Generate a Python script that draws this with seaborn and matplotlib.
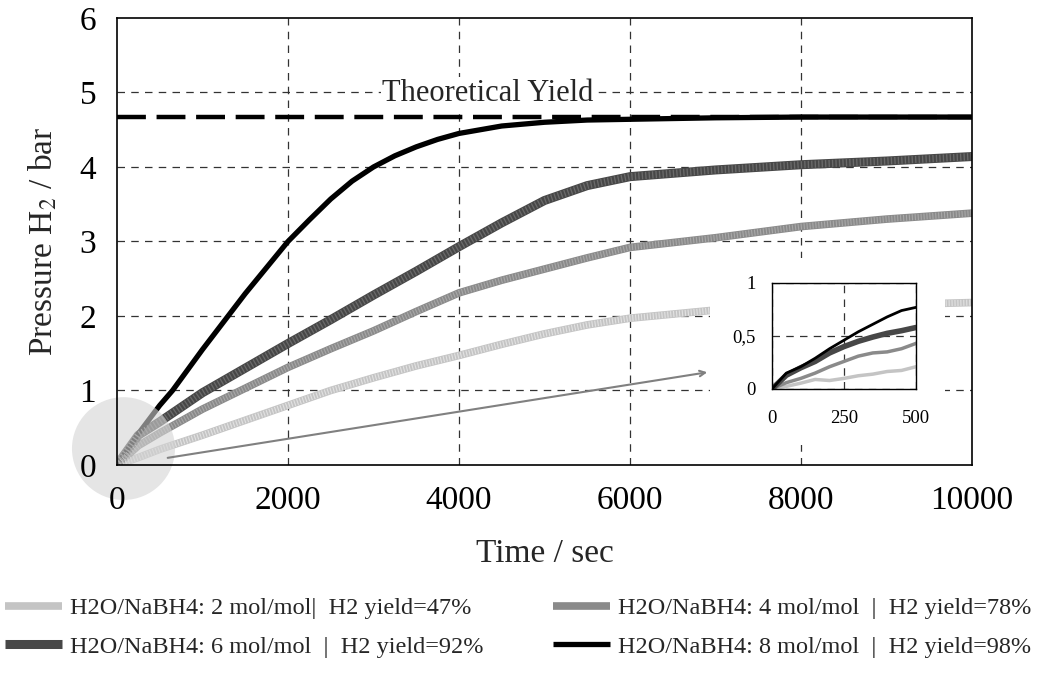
import numpy as np
import pandas as pd
import seaborn as sns
import matplotlib.pyplot as plt
from matplotlib.patches import Rectangle, Ellipse
from matplotlib.ticker import MultipleLocator, FixedLocator, FixedFormatter

# main curves
time_s = [0, 250, 500, 1000, 1500, 2000, 2500, 3000, 3500, 4000, 4500, 5000,
          5500, 6000, 7000, 8000, 9000, 10000]
p_2mol = [0, 0.10, 0.21, 0.40, 0.60, 0.80, 1.00, 1.17, 1.33, 1.47, 1.62, 1.76,
          1.88, 1.97, 2.08, 2.12, 2.15, 2.18]
p_4mol = [0, 0.26, 0.43, 0.75, 1.03, 1.31, 1.56, 1.80, 2.06, 2.31, 2.48, 2.63,
          2.78, 2.92, 3.05, 3.20, 3.30, 3.38]
p_6mol = [0, 0.40, 0.58, 0.97, 1.30, 1.63, 1.95, 2.28, 2.60, 2.93, 3.25, 3.55,
          3.75, 3.87, 3.96, 4.03, 4.08, 4.14]
time_8mol = [0, 250, 500, 650, 1000, 1300, 1500, 2000, 2250, 2500, 2750, 3000,
             3250, 3500, 3750, 4000, 4500, 5000, 5500, 6000, 7000, 8000, 9000, 10000]
p_8mol = [0, 0.42, 0.80, 1.00, 1.55, 2.00, 2.30, 3.00, 3.29, 3.57, 3.81, 4.00,
          4.15, 4.27, 4.37, 4.45, 4.55, 4.60, 4.63, 4.64, 4.66, 4.67, 4.67, 4.67]
theoretical = 4.67

# inset (first 500 s)
t_in = [0, 50, 100, 150, 200, 250, 300, 350, 400, 450, 500]
in_2mol = [0, 0.025, 0.055, 0.09, 0.08, 0.10, 0.125, 0.14, 0.165, 0.175, 0.21]
in_4mol = [0, 0.06, 0.10, 0.15, 0.21, 0.26, 0.31, 0.34, 0.35, 0.38, 0.43]
in_6mol = [0, 0.13, 0.20, 0.26, 0.34, 0.40, 0.45, 0.49, 0.525, 0.55, 0.58]
in_8mol = [0, 0.15, 0.21, 0.29, 0.38, 0.46, 0.54, 0.61, 0.68, 0.74, 0.77]

labels = ["H2O/NaBH4: 2 mol/mol|  H2 yield=47%",
          "H2O/NaBH4: 4 mol/mol  |  H2 yield=78%",
          "H2O/NaBH4: 6 mol/mol  |  H2 yield=92%",
          "H2O/NaBH4: 8 mol/mol  |  H2 yield=98%"]
colors = ["#c4c4c4", "#8a8a8a", "#474747", "#000000"]
stripe = ["#e2e2e2", "#a8a8a8", "#6a6a6a", None]
widths = [5.5, 5.5, 6.5, 3.8]
widths_in = [2.5, 2.5, 4, 2]

sns.set_style("white")
plt.rcParams['font.family'] = ['Liberation Serif', 'DejaVu Serif']
plt.rcParams['mathtext.fontset'] = 'stix'

fig = plt.figure(figsize=(10.38, 6.73), dpi=100)
ax = fig.add_axes([0.1127, 0.3091, 0.8237, 0.6642])

series = [(time_s, p_2mol), (time_s, p_4mol), (time_s, p_6mol), (time_8mol, p_8mol)]
handles = []
for (tt, vals), c, sc, w in zip(series, colors, stripe, widths):
    df = pd.DataFrame({"t": tt, "p": vals})
    sns.lineplot(data=df, x="t", y="p", ax=ax, color=c, lw=w, zorder=3,
                 solid_capstyle="butt")
    handles.append(ax.lines[-1])
    if sc:
        # fine stripes to imitate the noisy, hatched look of the measured traces
        sns.lineplot(data=df, x="t", y="p", ax=ax, color=sc, lw=w * 0.8, zorder=3.1,
                     dashes=False)
        ax.lines[-1].set_dashes((0.18, 0.3))

ax.plot([0, 10000], [theoretical, theoretical], color="black", lw=3.2,
        dashes=(6.5, 2.4), zorder=2.5)
ax.text(4340, 4.99, "Theoretical Yield", ha="center", va="center", fontsize=22,
        bbox=dict(facecolor="white", edgecolor="none", pad=1), zorder=4)

ax.set_xlim(0, 10000)
ax.set_ylim(0, 6)
ax.xaxis.set_major_locator(MultipleLocator(2000))
ax.xaxis.set_minor_locator(MultipleLocator(1000))
ax.yaxis.set_major_locator(MultipleLocator(1))
ax.yaxis.set_minor_locator(MultipleLocator(0.5))
ax.tick_params(which="major", direction="out", length=10, width=1, labelsize=24,
               colors="black", pad=5)
ax.tick_params(which="minor", direction="in", length=8, width=1)
# grid drawn underneath the curves, axis (tick labels) kept on top of the shaded circle
for v in [2000, 4000, 6000, 8000]:
    ax.axvline(v, color="#333333", lw=0.9, ls=(0, (6, 5)), zorder=1)
for v in [1, 2, 3, 4, 5]:
    ax.axhline(v, color="#333333", lw=0.9, ls=(0, (6, 5)), zorder=1)
ax.xaxis.set_zorder(7)
ax.yaxis.set_zorder(7)
for s in ax.spines.values():
    s.set_visible(True)
    s.set_color("black")
    s.set_linewidth(1.2)
    s.set_zorder(7)
ax.set_xlabel("Time / sec", fontsize=24, labelpad=16)
ax.set_ylabel("Pressure H$_2$ / bar", fontsize=24, labelpad=14)

# shaded circle at origin and arrow to inset
ax.add_patch(Ellipse((76, 0.22), 1205, 1.38, facecolor="#d4d4d4", alpha=0.6,
                     edgecolor="none", clip_on=False, zorder=6))
ax.annotate("", xy=(6936, 1.25), xytext=(561, 0.09),
            arrowprops=dict(arrowstyle="->", color="#808080", lw=1.5), zorder=6)

# white area behind inset
fig.add_artist(Rectangle((0.684, 0.3388), 0.2264, 0.2779, transform=fig.transFigure,
                         facecolor="white", edgecolor="none", zorder=1))

ax_in = fig.add_axes([0.7437, 0.422, 0.1387, 0.1575])
ax_in.set_zorder(2)
for vals, c, w in zip([in_2mol, in_4mol, in_6mol, in_8mol], colors, widths_in):
    df = pd.DataFrame({"t": t_in, "p": vals})
    sns.lineplot(data=df, x="t", y="p", ax=ax_in, color=c, lw=w)
ax_in.set_xlim(0, 500)
ax_in.set_ylim(0, 1)
ax_in.xaxis.set_major_locator(FixedLocator([0, 250, 500]))
ax_in.xaxis.set_minor_locator(MultipleLocator(50))
ax_in.yaxis.set_major_locator(FixedLocator([0, 0.5, 1]))
ax_in.yaxis.set_major_formatter(FixedFormatter(["0", "0,5", "1"]))
ax_in.yaxis.set_minor_locator(FixedLocator([0.25, 0.75]))
ax_in.tick_params(which="major", direction="out", length=6, width=1, labelsize=13.5,
                  colors="black", pad=6)
ax_in.tick_params(axis="x", which="major", pad=9)
ax_in.tick_params(axis="x", which="minor", direction="in", length=5, width=1)
ax_in.tick_params(axis="y", which="minor", direction="out", length=5, width=1)
ax_in.grid(True, which="major", color="#333333", lw=0.9, ls=(0, (6, 5)))
ax_in.set_axisbelow(True)
for s in ax_in.spines.values():
    s.set_visible(True)
    s.set_color("black")
    s.set_linewidth(1)
ax_in.set_xlabel("")
ax_in.set_ylabel("")

order = [0, 2, 1, 3]
fig.legend([handles[i] for i in order], [labels[i] for i in order], ncol=2,
           loc="lower left", bbox_to_anchor=(0.005, 0.0224), frameon=False,
           fontsize=17.5, handlelength=2.35, handletextpad=0.3,
           columnspacing=2.88, labelspacing=0.68, borderaxespad=0, borderpad=0)

fig.savefig("out.png", dpi=100)
